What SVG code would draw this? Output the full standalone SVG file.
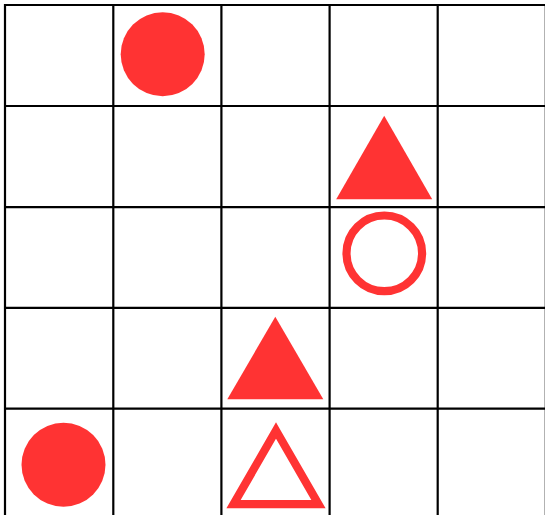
<svg xmlns="http://www.w3.org/2000/svg" width="545" height="515" viewBox="0 0 545 515">
<style>
.grid line{stroke:#000;stroke-width:2.2}
.fill{fill:#ff3333}
.open{fill:none;stroke:#ff3333;stroke-width:8.2}
</style>
<rect width="545" height="515" fill="#fff"/>
<g id="grid" class="grid">
<line x1="5" y1="4" x2="5" y2="515"/>
<line x1="113.3" y1="4" x2="113.3" y2="515"/>
<line x1="221.4" y1="4" x2="221.4" y2="515"/>
<line x1="329.6" y1="4" x2="329.6" y2="515"/>
<line x1="437.7" y1="4" x2="437.7" y2="515"/>
<line x1="545.8" y1="4" x2="545.8" y2="515"/>
<line x1="4" y1="5" x2="547" y2="5"/>
<line x1="4" y1="106" x2="547" y2="106"/>
<line x1="4" y1="207.2" x2="547" y2="207.2"/>
<line x1="4" y1="307.8" x2="547" y2="307.8"/>
<line x1="4" y1="408.7" x2="547" y2="408.7"/>
</g>
<g id="circle-top"><circle class="fill" cx="162.7" cy="54.3" r="42"/></g>
<g id="triangle-1"><polygon class="fill" points="384.2,115.7 432.2,199.3 336.2,199.3"/></g>
<g id="ring"><circle class="open" cx="384.3" cy="253.3" r="37.8"/></g>
<g id="triangle-2"><polygon class="fill" points="275.3,316.7 323.3,399.3 227.3,399.3"/></g>
<g id="circle-bottom"><circle class="fill" cx="63.5" cy="464.7" r="42"/></g>
<g id="triangle-open"><polygon class="open" points="276,430.5 318.5,504.2 233.5,504.2"/></g>
</svg>
